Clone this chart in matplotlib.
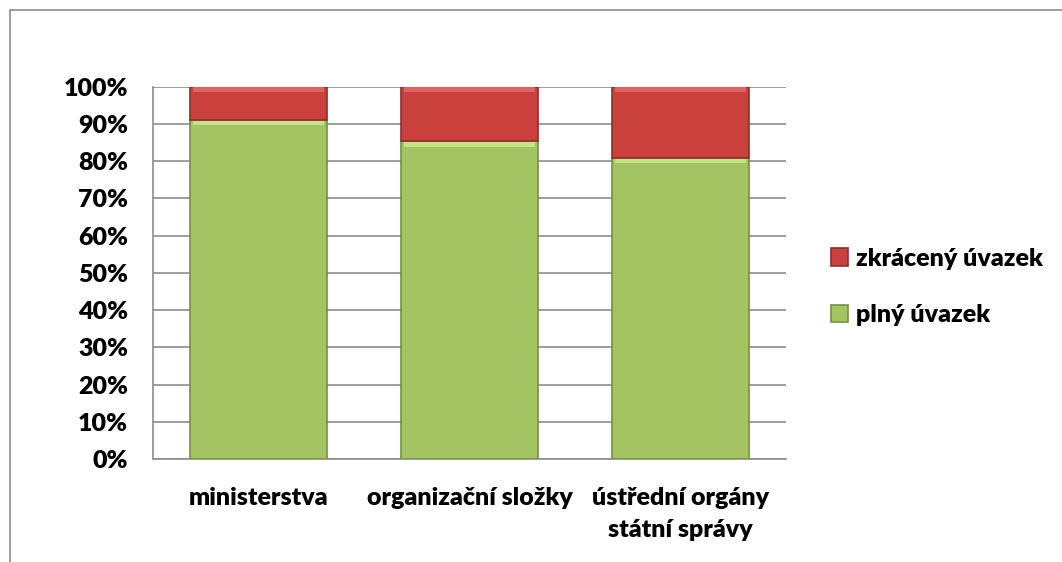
import matplotlib.pyplot as plt
import matplotlib.patches as mpatches
import numpy as np

categories = ["ministerstva", "organizační složky", "ústřední orgány\nstátní správy"]
plny = [91.1, 85.3, 80.9]
zkraceny = [8.9, 14.7, 19.1]
yticks = list(range(0, 101, 10))
ytick_labels = [f"{t}%" for t in yticks]

green = "#A4C463"
red = "#C9403D"
grid_col = "#8C8C8C"

plt.rcParams['font.family'] = ['Lato', 'DejaVu Sans']

fig = plt.figure(figsize=(10.62, 5.62), dpi=100)
ax = fig.add_axes([153 / 1062, 1 - 459 / 562, (786 - 153) / 1062, (459 - 86.7) / 562])

# outer chart frame
fig.patches.append(mpatches.Rectangle((10 / 1062, -0.1), 1.2, 1 - 10 / 562 + 0.1,
                                      transform=fig.transFigure, fill=False,
                                      edgecolor="#8C8C8C", linewidth=1.2))

x = np.arange(len(categories))
w = 0.65
top_plny = np.array(plny)
top_all = top_plny + np.array(zkraceny)
ax.bar(x, plny, w, color=green, edgecolor="#76913F", linewidth=1.2, label="plný úvazek", zorder=3)
ax.bar(x, zkraceny, w, bottom=plny, color=red, edgecolor="#8E2F2D", linewidth=1.2,
       label="zkrácený úvazek", zorder=3)
# light bevel strip on top of each segment
ax.bar(x, 1.3, w * 0.96, bottom=top_plny - 1.5, color="#C6E286", linewidth=0, zorder=4)
ax.bar(x, 1.3, w * 0.96, bottom=top_all - 1.5, color="#E0625E", linewidth=0, zorder=4)

ax.set_xlim(-0.5, len(categories) - 0.5)
ax.set_ylim(0, 100)
ax.set_yticks(yticks)
ax.set_yticklabels(ytick_labels, fontsize=18, fontweight="heavy")
ax.set_xticks(x)
ax.set_xticklabels(categories, fontsize=18, fontweight="heavy", linespacing=1.55)
ax.tick_params(axis="y", length=0, pad=18)
ax.tick_params(axis="x", length=0, pad=20)
ax.yaxis.grid(True, color=grid_col, linewidth=1.2, zorder=0)
ax.set_axisbelow(True)
for s in ["top", "right"]:
    ax.spines[s].set_visible(False)
for s in ["left", "bottom"]:
    ax.spines[s].set_color(grid_col)
    ax.spines[s].set_linewidth(1.2)

handles, labels = ax.get_legend_handles_labels()
ax.legend(handles[::-1], labels[::-1], loc="center left", bbox_to_anchor=(1.035, 0.462),
          frameon=False, prop={"size": 18, "weight": "heavy"}, handlelength=0.7,
          handleheight=0.7, labelspacing=1.38, handletextpad=0.3)

fig.savefig("out.png", dpi=100)
